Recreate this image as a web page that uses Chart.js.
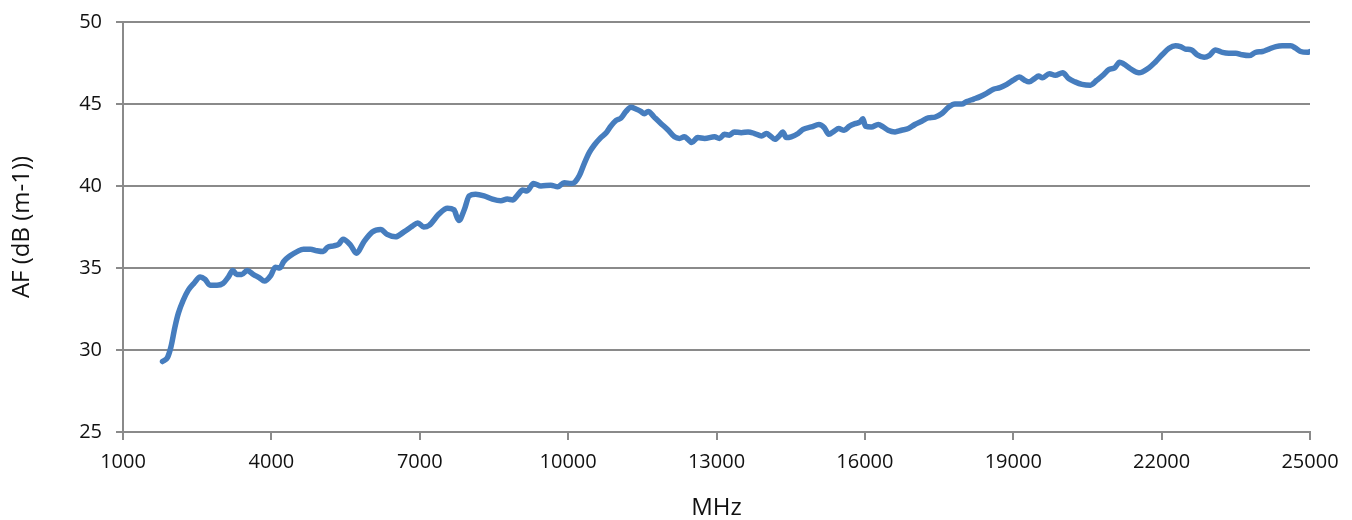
<!DOCTYPE html>
<html>
<head>
<meta charset="utf-8">
<title>AF vs MHz</title>
<script src="https://cdn.jsdelivr.net/npm/chart.js@4/dist/chart.umd.min.js"></script>
<style>
  html, body { margin: 0; padding: 0; background: #fff; }
  #wrap { width: 1352px; height: 520px; position: relative; }
</style>
</head>
<body>
<div id="wrap"><canvas id="afChart" width="1352" height="520"></canvas></div>
<script>
// Antenna factor curve
const X_MHZ = [
  1800, 1900, 1970, 2050, 2120, 2220, 2320, 2430, 2560, 2660, 2760, 2900, 3020, 3130, 3220, 3300,
  3400, 3510, 3640, 3760, 3860, 3990, 4080, 4170, 4250, 4380, 4520, 4650, 4790, 4920, 5050, 5130,
  5260, 5360, 5450, 5600, 5720, 5870, 6040, 6210, 6340, 6510, 6680, 6850, 6960, 7080, 7190, 7390,
  7560, 7690, 7790, 7900, 8000, 8130, 8300, 8470, 8640, 8770, 8880, 8980, 9080, 9170, 9300, 9450,
  9650, 9790, 9920, 10060, 10140, 10230, 10330, 10430, 10530, 10660, 10770, 10850, 10970, 11070, 11170, 11270,
  11370, 11470, 11540, 11620, 11740, 11880, 12010, 12150, 12250, 12350, 12420, 12500, 12620, 12760, 12960, 13060,
  13160, 13260, 13360, 13500, 13640, 13770, 13910, 14010, 14090, 14180, 14280, 14340, 14410, 14510, 14650, 14750,
  14920, 15070, 15180, 15270, 15380, 15470, 15580, 15690, 15800, 15900, 15960, 16010, 16130, 16270, 16370, 16470,
  16610, 16740, 16880, 17010, 17150, 17280, 17420, 17550, 17690, 17820, 17960, 18060, 18200, 18330, 18460, 18600,
  18730, 18870, 19000, 19120, 19230, 19320, 19430, 19510, 19590, 19730, 19850, 20000, 20120, 20250, 20390, 20560,
  20690, 20830, 20930, 21050, 21150, 21230, 21370, 21540, 21740, 21870, 22010, 22150, 22280, 22380, 22480, 22600,
  22720, 22860, 22960, 23090, 23230, 23360, 23500, 23630, 23770, 23900, 24040, 24170, 24310, 24440, 24610, 24710,
  24810, 24950, 25000
];
const AF_DB = [
  29.3, 29.55, 30.2, 31.4, 32.25, 33.05, 33.65, 34.05, 34.45, 34.3, 33.95, 33.95, 34.05, 34.45, 34.85, 34.6,
  34.6, 34.85, 34.6, 34.4, 34.2, 34.55, 35.05, 35.0, 35.4, 35.75, 36.0, 36.15, 36.15, 36.05, 36.0, 36.25,
  36.35, 36.45, 36.75, 36.4, 35.9, 36.6, 37.2, 37.35, 37.05, 36.9, 37.2, 37.55, 37.75, 37.5, 37.6, 38.3,
  38.65, 38.55, 37.9, 38.55, 39.4, 39.5, 39.4, 39.2, 39.1, 39.2, 39.15, 39.45, 39.75, 39.7, 40.15, 40.0,
  40.05, 39.95, 40.2, 40.15, 40.25, 40.65, 41.4, 42.05, 42.5, 42.95, 43.25, 43.6, 44.0, 44.15, 44.55, 44.8,
  44.7, 44.55, 44.4, 44.55, 44.2, 43.8, 43.45, 43.0, 42.9, 43.0, 42.85, 42.65, 42.95, 42.9, 43.0, 42.9,
  43.15, 43.1, 43.3, 43.25, 43.3, 43.2, 43.05, 43.2, 43.05, 42.85, 43.1, 43.3, 42.95, 43.0, 43.2, 43.45,
  43.6, 43.75, 43.55, 43.15, 43.35, 43.5, 43.4, 43.65, 43.8, 43.9, 44.1, 43.65, 43.6, 43.75, 43.6, 43.4,
  43.3, 43.4, 43.5, 43.75, 43.95, 44.15, 44.2, 44.4, 44.8, 45.0, 45.0, 45.15, 45.3, 45.45, 45.65, 45.9,
  46.0, 46.2, 46.45, 46.65, 46.45, 46.35, 46.55, 46.7, 46.6, 46.85, 46.75, 46.9, 46.55, 46.35, 46.2, 46.15,
  46.45, 46.8, 47.1, 47.2, 47.55, 47.45, 47.15, 46.9, 47.2, 47.55, 48.0, 48.4, 48.55, 48.5, 48.35, 48.3,
  48.0, 47.85, 47.95, 48.3, 48.15, 48.1, 48.1, 48.0, 47.95, 48.15, 48.2, 48.35, 48.5, 48.55, 48.55, 48.4,
  48.2, 48.15, 48.2
];
const X_TICKS = [1000, 4000, 7000, 10000, 13000, 16000, 19000, 22000, 25000];
const Y_TICKS = [25, 30, 35, 40, 45, 50];
const X_TITLE = "MHz";
const Y_TITLE = "AF (dB (m-1))";

(() => {
  const GRID = "#8a8a8a";
  const TEXT = "#111";
  const FONT = "'Open Sans', 'Liberation Sans', sans-serif";

  const points = X_MHZ.map((x, i) => ({ x, y: AF_DB[i] }));
  const ctx = document.getElementById("afChart").getContext("2d");

  new Chart(ctx, {
    type: "line",
    data: {
      datasets: [{
        data: points,
        borderColor: "#467dbe",
        borderWidth: 5.5,
        pointRadius: 0,
        tension: 0.4,
        cubicInterpolationMode: "monotone",
        borderCapStyle: "round",
        borderJoinStyle: "round",
        fill: false,
      }],
    },
    options: {
      responsive: false,
      animation: false,
      layout: { padding: { top: 22, right: 42, left: 0, bottom: 0 } },
      plugins: { legend: { display: false }, tooltip: { enabled: false } },
      scales: {
        x: {
          type: "linear",
          min: 1000,
          max: 25000,
          afterBuildTicks: (s) => { s.ticks = X_TICKS.map(v => ({ value: v })); },
          afterFit: (s) => { s.height = 88; },
          ticks: {
            color: TEXT, font: { family: FONT, size: 20 }, padding: 10, maxRotation: 0,
            callback: (v) => String(v), // no thousands separator
          },
          grid: { drawOnChartArea: false, drawTicks: true, tickLength: 8, color: GRID, lineWidth: 2 },
          border: { display: true, color: GRID, width: 2 },
          title: {
            display: true, text: X_TITLE, color: TEXT,
            font: { family: FONT, size: 24, lineHeight: 1 }, padding: { top: 0, bottom: 0 },
          },
        },
        y: {
          min: 25,
          max: 50,
          afterBuildTicks: (s) => { s.ticks = Y_TICKS.map(v => ({ value: v })); },
          afterFit: (s) => { s.width = 123; s.paddingTop = 0; s.paddingBottom = 0; },
          ticks: { color: TEXT, font: { family: FONT, size: 20 }, padding: 14, callback: (v) => String(v) },
          grid: { color: GRID, lineWidth: 2, tickLength: 7 },
          border: { display: true, color: GRID, width: 2 },
          title: {
            display: true, text: Y_TITLE, color: TEXT,
            font: { family: FONT, size: 24, lineHeight: 1 }, padding: { top: 10, bottom: 0 },
          },
        },
      },
    },
  });
})();
</script>
</body>
</html>
